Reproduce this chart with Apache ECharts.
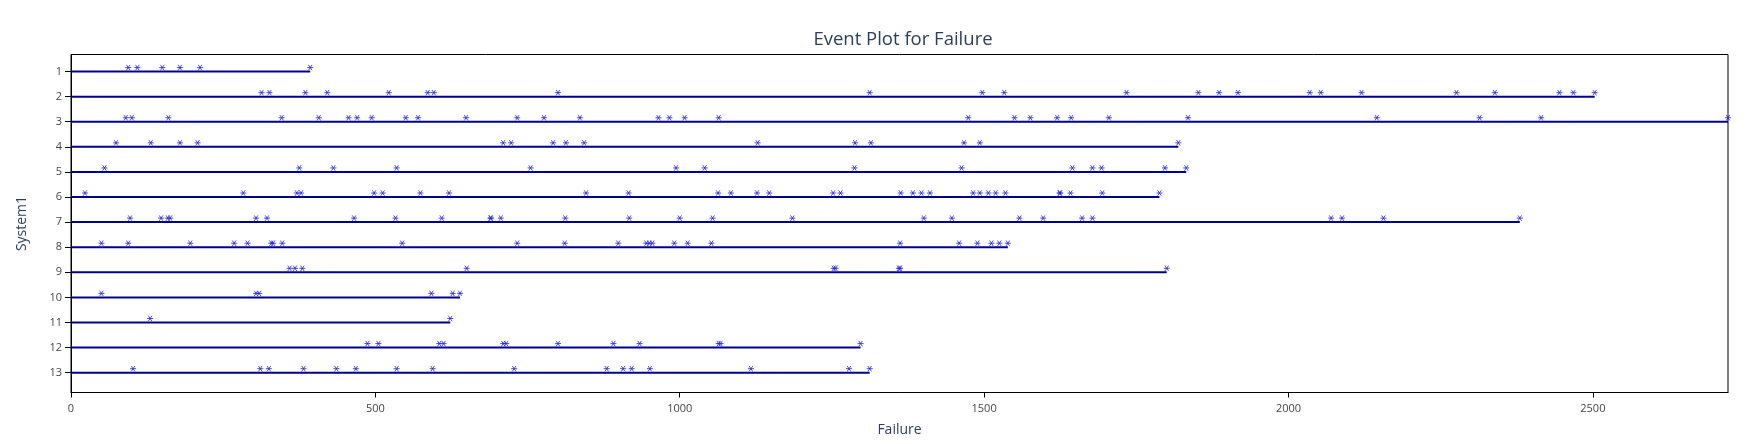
<!DOCTYPE html>
<html>
<head>
<meta charset="utf-8">
<script src="https://cdn.jsdelivr.net/npm/echarts@6/dist/echarts.min.js"></script>
<style>
html,body{margin:0;padding:0;background:#fff;}
#chart{width:1750px;height:444px;}
</style>
</head>
<body>
<div id="chart"></div>
<script>
const systems = [1, 2, 3, 4, 5, 6, 7, 8, 9, 10, 11, 12, 13];
const sys1 = [94, 109, 150, 179, 212, 393];
const sys2 = [313, 326, 385, 421, 522, 586, 596, 800, 1312, 1497, 1533, 1734, 1852, 1886, 1917, 2035, 2053, 2120, 2276, 2339, 2445, 2468, 2503];
const sys3 = [90, 100, 160, 346, 407, 456, 470, 494, 550, 570, 649, 733, 777, 836, 965, 983, 1008, 1064, 1474, 1550, 1576, 1620, 1643, 1705, 1835, 2145, 2314, 2415, 2722];
const sys4 = [74, 131, 179, 208, 710, 723, 792, 813, 843, 1128, 1288, 1314, 1467, 1493, 1819];
const sys5 = [55, 375, 431, 535, 755, 994, 1041, 1287, 1463, 1645, 1678, 1693, 1797, 1832];
const sys6 = [23, 283, 371, 378, 498, 512, 574, 621, 846, 916, 1063, 1084, 1127, 1147, 1252, 1264, 1363, 1383, 1397, 1411, 1482, 1493, 1507, 1519, 1535, 1624, 1625, 1642, 1694, 1788];
const sys7 = [97, 148, 159, 163, 304, 322, 465, 533, 609, 689, 690, 706, 812, 917, 1000, 1054, 1185, 1401, 1447, 1558, 1597, 1661, 1678, 2070, 2088, 2156, 2380];
const sys8 = [50, 94, 196, 268, 290, 329, 332, 347, 544, 733, 811, 899, 945, 950, 955, 991, 1013, 1052, 1362, 1459, 1489, 1512, 1525, 1539];
const sys9 = [359, 368, 380, 650, 1253, 1256, 1360, 1362, 1800];
const sys10 = [50, 304, 309, 592, 627, 639];
const sys11 = [130, 623];
const sys12 = [487, 505, 605, 612, 710, 715, 800, 891, 934, 1064, 1067, 1297];
const sys13 = [102, 311, 325, 382, 436, 468, 535, 594, 728, 880, 907, 921, 951, 1117, 1278, 1312];
const xTicks = [0, 500, 1000, 1500, 2000, 2500];

const failures = [sys1, sys2, sys3, sys4, sys5, sys6, sys7, sys8, sys9, sys10, sys11, sys12, sys13];
const xMax = Math.max(...failures.map(a => a[a.length - 1]));

const series = [];
failures.forEach((arr, i) => {
  series.push({
    type: 'line',
    data: [[0, systems[i]], [arr[arr.length - 1], systems[i]]],
    symbol: 'none',
    silent: true,
    lineStyle: { color: '#00008b', width: 2 },
    z: 2
  });
});
const pts = [];
failures.forEach((arr, i) => arr.forEach(v => pts.push([v, systems[i]])));
series.push({
  type: 'scatter',
  data: pts,
  symbol: 'path://M-5,0L5,0M-3,-4.5L3,4.5M-3,4.5L3,-4.5',
  symbolSize: [6, 6],
  symbolKeepAspect: true,
  symbolOffset: [0, -4],
  itemStyle: { color: 'rgba(0,0,0,0)', borderColor: '#2020f0', borderWidth: 1 },
  z: 3
});

const chart = echarts.init(document.getElementById('chart'), null, { renderer: 'canvas' });
chart.setOption({
  animation: false,
  backgroundColor: '#fff',
  textStyle: { fontFamily: '"Open Sans", "DejaVu Sans", sans-serif' },
  title: {
    text: 'Event Plot for Failure',
    left: 898,
    textAlign: 'center',
    top: 25,
    textStyle: { color: '#2a3f5f', fontSize: 18.5, fontWeight: 'normal', fontFamily: '"Open Sans", sans-serif' }
  },
  grid: {
    left: 71, right: 22, top: 54.5, bottom: 51.5,
    show: true, borderColor: '#000', borderWidth: 1, backgroundColor: '#fff'
  },
  xAxis: {
    type: 'value',
    min: 0,
    max: xMax,
    name: 'Failure',
    nameLocation: 'middle',
    nameGap: 31,
    nameTextStyle: { color: '#2a3f5f', fontSize: 14 },
    axisLine: { show: true, lineStyle: { color: '#000', width: 1 } },
    axisTick: { show: true, length: 5, lineStyle: { color: '#000' }, customValues: xTicks },
    axisLabel: { color: '#444', fontSize: 11, margin: 11, customValues: xTicks, formatter: v => String(v) },
    splitLine: { show: false }
  },
  yAxis: {
    type: 'value',
    inverse: true,
    min: 0.32,
    max: 13.79,
    name: 'System1',
    nameLocation: 'middle',
    nameRotate: 90,
    nameGap: 42,
    nameTextStyle: { color: '#2a3f5f', fontSize: 14 },
    axisLine: { show: true, lineStyle: { color: '#000', width: 1 } },
    axisTick: { show: true, length: 6, lineStyle: { color: '#000' }, customValues: systems },
    axisLabel: { color: '#444', fontSize: 11, margin: 9, customValues: systems, formatter: v => String(v) },
    splitLine: { show: false }
  },
  series: series
});
</script>
</body>
</html>
